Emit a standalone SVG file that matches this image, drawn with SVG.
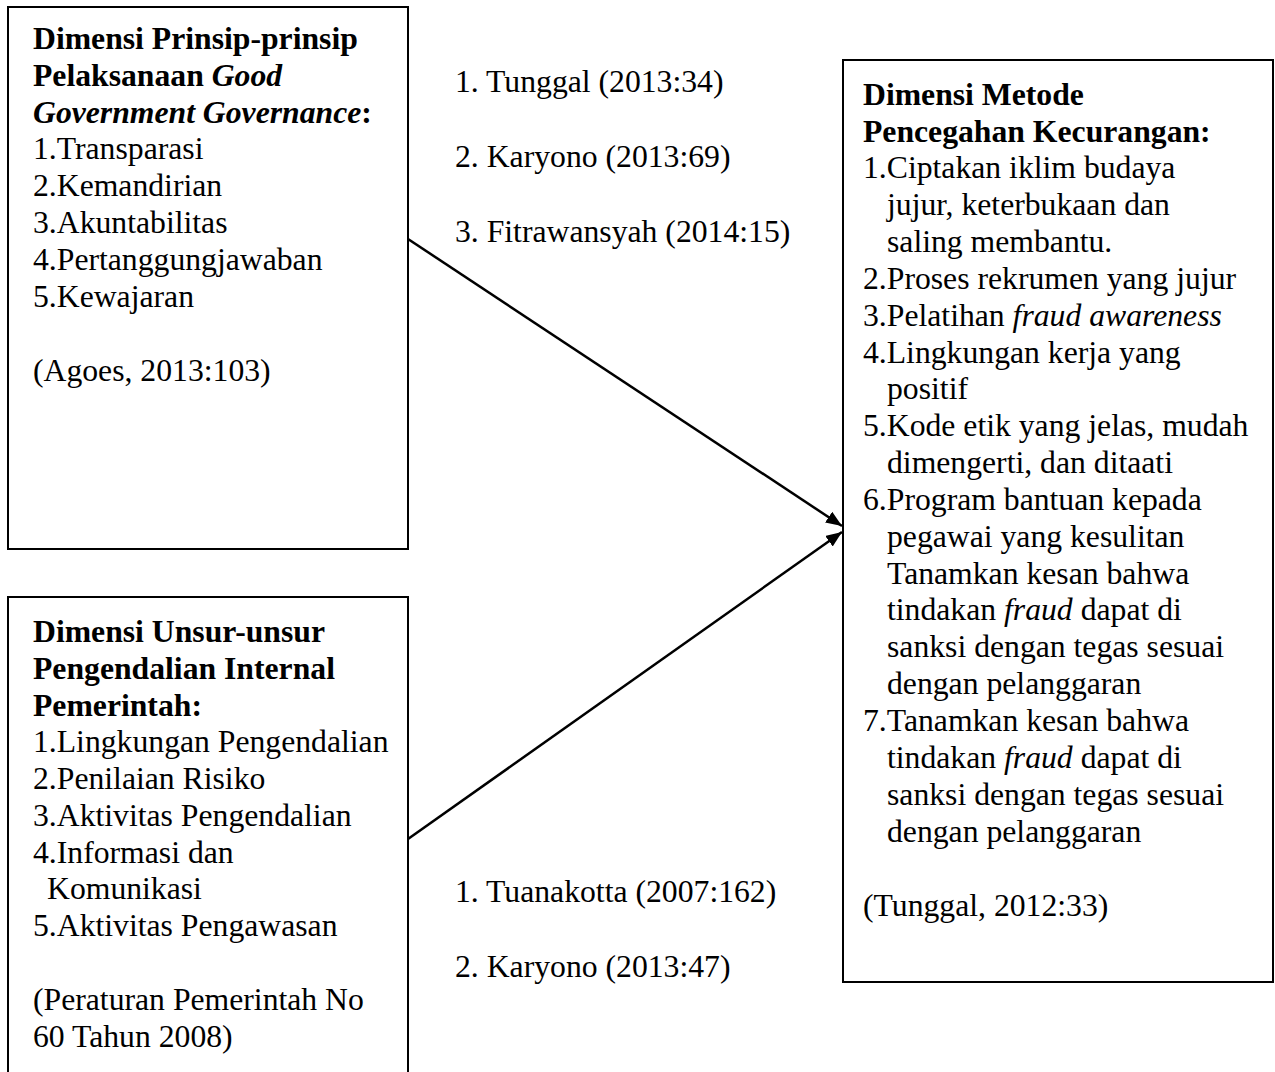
<svg xmlns="http://www.w3.org/2000/svg" width="1275" height="1072" viewBox="0 0 1275 1072">
<defs>
<style>
text{font-family:"Liberation Serif","Times New Roman",serif;font-size:31.7px;fill:#000}
.b{font-weight:bold}
.i{font-style:italic}
.box{fill:#fff;stroke:#000;stroke-width:2}
.conn{stroke:#000;stroke-width:2.5;fill:none}
</style>
<marker id="ah" markerWidth="16" markerHeight="13" refX="16" refY="6.5" orient="auto" markerUnits="userSpaceOnUse" viewBox="0 0 16 13">
<path d="M0,0 L16,6.5 L0,13 Z" fill="#000"/>
</marker>
</defs>
<rect width="1275" height="1072" fill="#fff"/>
<g id="node-ggg">
<rect class="box" x="8" y="7" width="400" height="542"/>
<text x="33" y="49" class="b">Dimensi Prinsip-prinsip</text>
<text x="33" y="86"><tspan class="b">Pelaksanaan </tspan><tspan class="b i">Good</tspan></text>
<text x="33" y="123"><tspan class="b i">Government Governance</tspan><tspan class="b">:</tspan></text>
<text x="33" y="159">1.Transparasi</text>
<text x="33" y="196">2.Kemandirian</text>
<text x="33" y="233">3.Akuntabilitas</text>
<text x="33" y="270">4.Pertanggungjawaban</text>
<text x="33" y="307">5.Kewajaran</text>
<text x="33" y="381">(Agoes, 2013:103)</text>
</g>
<g id="node-spip">
<rect class="box" x="8" y="597" width="400" height="490"/>
<text x="33" y="642" class="b">Dimensi Unsur-unsur</text>
<text x="33" y="679" class="b">Pengendalian Internal</text>
<text x="33" y="716" class="b">Pemerintah:</text>
<text x="33" y="752">1.Lingkungan Pengendalian</text>
<text x="33" y="789">2.Penilaian Risiko</text>
<text x="33" y="826">3.Aktivitas Pengendalian</text>
<text x="33" y="863">4.Informasi dan</text>
<text x="47" y="899">Komunikasi</text>
<text x="33" y="936">5.Aktivitas Pengawasan</text>
<text x="33" y="1010">(Peraturan Pemerintah No</text>
<text x="33" y="1047">60 Tahun 2008)</text>
</g>
<g id="node-fraud">
<rect class="box" x="843" y="60" width="430" height="922"/>
<text x="863" y="105" class="b">Dimensi Metode</text>
<text x="863" y="142" class="b">Pencegahan Kecurangan:</text>
<text x="863" y="178">1.Ciptakan iklim budaya</text>
<text x="887" y="215">jujur, keterbukaan dan</text>
<text x="887" y="252">saling membantu.</text>
<text x="863" y="289">2.Proses rekrumen yang jujur</text>
<text x="863" y="326">3.Pelatihan <tspan class="i">fraud awareness</tspan></text>
<text x="863" y="363">4.Lingkungan kerja yang</text>
<text x="887" y="399">positif</text>
<text x="863" y="436">5.Kode etik yang jelas, mudah</text>
<text x="887" y="473">dimengerti, dan ditaati</text>
<text x="863" y="510">6.Program bantuan kepada</text>
<text x="887" y="547">pegawai yang kesulitan</text>
<text x="887" y="584">Tanamkan kesan bahwa</text>
<text x="887" y="620">tindakan <tspan class="i">fraud</tspan> dapat di</text>
<text x="887" y="657">sanksi dengan tegas sesuai</text>
<text x="887" y="694">dengan pelanggaran</text>
<text x="863" y="731">7.Tanamkan kesan bahwa</text>
<text x="887" y="768">tindakan <tspan class="i">fraud</tspan> dapat di</text>
<text x="887" y="805">sanksi dengan tegas sesuai</text>
<text x="887" y="842">dengan pelanggaran</text>
<text x="863" y="916">(Tunggal, 2012:33)</text>
</g>
<g id="connectors">
<line class="conn" x1="408" y1="239" x2="842" y2="526" marker-end="url(#ah)"/>
<line class="conn" x1="408" y1="839" x2="842" y2="532" marker-end="url(#ah)"/>
</g>
<g id="labels">
<text x="455" y="92">1. Tunggal (2013:34)</text>
<text x="455" y="167">2. Karyono (2013:69)</text>
<text x="455" y="242">3. Fitrawansyah (2014:15)</text>
<text x="455" y="902">1. Tuanakotta (2007:162)</text>
<text x="455" y="977">2. Karyono (2013:47)</text>
</g>
</svg>
